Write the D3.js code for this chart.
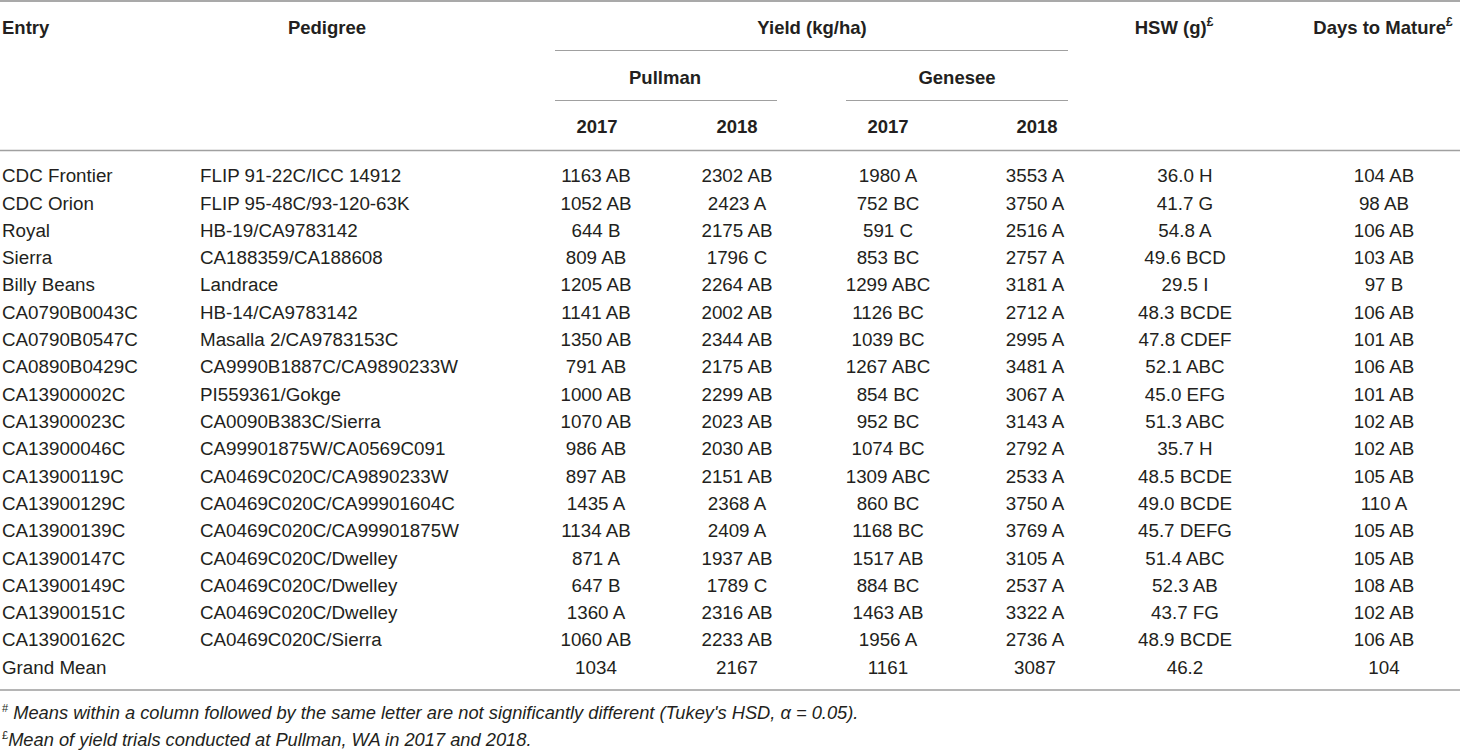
<!DOCTYPE html>
<html><head><meta charset="utf-8">
<script src="https://cdn.jsdelivr.net/npm/d3@7/dist/d3.min.js"></script>
<style>
html,body{margin:0;padding:0;background:#fff;}
svg{display:block;}
text{font-family:"Liberation Sans",Arial,Helvetica,sans-serif;fill:#231f20;}
</style></head>
<body><svg id="t" width="1460" height="751"></svg>
<script>
const entries = ["CDC Frontier","CDC Orion","Royal","Sierra","Billy Beans","CA0790B0043C","CA0790B0547C","CA0890B0429C","CA13900002C","CA13900023C","CA13900046C","CA13900119C","CA13900129C","CA13900139C","CA13900147C","CA13900149C","CA13900151C","CA13900162C","Grand Mean"];
const pedigrees = ["FLIP 91-22C/ICC 14912","FLIP 95-48C/93-120-63K","HB-19/CA9783142","CA188359/CA188608","Landrace","HB-14/CA9783142","Masalla 2/CA9783153C","CA9990B1887C/CA9890233W","PI559361/Gokge","CA0090B383C/Sierra","CA99901875W/CA0569C091","CA0469C020C/CA9890233W","CA0469C020C/CA99901604C","CA0469C020C/CA99901875W","CA0469C020C/Dwelley","CA0469C020C/Dwelley","CA0469C020C/Dwelley","CA0469C020C/Sierra",""];
const pullman2017 = ["1163 AB","1052 AB","644 B","809 AB","1205 AB","1141 AB","1350 AB","791 AB","1000 AB","1070 AB","986 AB","897 AB","1435 A","1134 AB","871 A","647 B","1360 A","1060 AB","1034"];
const pullman2018 = ["2302 AB","2423 A","2175 AB","1796 C","2264 AB","2002 AB","2344 AB","2175 AB","2299 AB","2023 AB","2030 AB","2151 AB","2368 A","2409 A","1937 AB","1789 C","2316 AB","2233 AB","2167"];
const genesee2017 = ["1980 A","752 BC","591 C","853 BC","1299 ABC","1126 BC","1039 BC","1267 ABC","854 BC","952 BC","1074 BC","1309 ABC","860 BC","1168 BC","1517 AB","884 BC","1463 AB","1956 A","1161"];
const genesee2018 = ["3553 A","3750 A","2516 A","2757 A","3181 A","2712 A","2995 A","3481 A","3067 A","3143 A","2792 A","2533 A","3750 A","3769 A","3105 A","2537 A","3322 A","2736 A","3087"];
const hsw = ["36.0 H","41.7 G","54.8 A","49.6 BCD","29.5 I","48.3 BCDE","47.8 CDEF","52.1 ABC","45.0 EFG","51.3 ABC","35.7 H","48.5 BCDE","49.0 BCDE","45.7 DEFG","51.4 ABC","52.3 AB","43.7 FG","48.9 BCDE","46.2"];
const daysToMature = ["104 AB","98 AB","106 AB","103 AB","97 B","106 AB","101 AB","106 AB","101 AB","102 AB","102 AB","105 AB","110 A","105 AB","105 AB","108 AB","102 AB","106 AB","104"];
const footnotes = [
  {sup:"#", text:" Means within a column followed by the same letter are not significantly different (Tukey's HSD, \u03b1 = 0.05)."},
  {sup:"\u00a3", text:"Mean of yield trials conducted at Pullman, WA in 2017 and 2018."}
];

const svg = d3.select("#t");
const FS = 18.8;
const W = 1460;

// column layout
const cols = [
  {key:"entry", data:entries, x:2, anchor:"start"},
  {key:"ped", data:pedigrees, x:200, anchor:"start"},
  {key:"p17", data:pullman2017, x:596, anchor:"middle"},
  {key:"p18", data:pullman2018, x:737, anchor:"middle"},
  {key:"g17", data:genesee2017, x:888, anchor:"middle"},
  {key:"g18", data:genesee2018, x:1035, anchor:"middle"},
  {key:"hsw", data:hsw, x:1185, anchor:"middle"},
  {key:"dtm", data:daysToMature, x:1384, anchor:"middle"}
];

const y = d3.scaleLinear().domain([0, entries.length - 1]).range([175.5, 667]);
const base = c => c + FS * 0.36;

// rules
const rule = (x1, x2, yy, w, col) => svg.append("line")
  .attr("x1", x1).attr("x2", x2).attr("y1", yy).attr("y2", yy)
  .attr("stroke", col).attr("stroke-width", w);
rule(0, W, 1, 1.5, "#8c8c8c");
rule(555, 1068, 50.5, 1.2, "#a0a0a0");
rule(555, 777, 100.5, 1.2, "#a0a0a0");
rule(846, 1068, 100.5, 1.2, "#a0a0a0");
rule(0, W, 150.5, 1.5, "#a0a0a0");
rule(0, W, 690, 2.2, "#b5b5b5");

// header
const hdr = [
  {t:"Entry", x:2, y:27, a:"start"},
  {t:"Pedigree", x:327, y:27, a:"middle"},
  {t:"Yield (kg/ha)", x:812, y:27, a:"middle"},
  {t:"HSW (g)", x:1174, y:27, a:"middle", sup:"\u00a3"},
  {t:"Days to Mature", x:1383, y:27, a:"middle", sup:"\u00a3"},
  {t:"Pullman", x:665, y:77, a:"middle"},
  {t:"Genesee", x:957, y:77, a:"middle"},
  {t:"2017", x:597, y:126, a:"middle"},
  {t:"2018", x:737, y:126, a:"middle"},
  {t:"2017", x:888, y:126, a:"middle"},
  {t:"2018", x:1037, y:126, a:"middle"}
];
hdr.forEach(h => {
  const t = svg.append("text").attr("x", h.x).attr("y", base(h.y))
    .attr("text-anchor", h.a).attr("font-weight", "bold").attr("font-size", 18.5).text(h.t);
  if (h.sup) {
    t.append("tspan").attr("font-size", 12).attr("dy", -8).text(h.sup);
  }
});

// body
cols.forEach(c => {
  svg.append("g").selectAll("text").data(c.data).join("text")
    .attr("x", c.x).attr("y", (d, i) => base(y(i)))
    .attr("text-anchor", c.anchor).attr("font-size", FS)
    .text(d => d);
});

// footnotes
const fy = d3.scaleLinear().domain([0, 1]).range([712, 739]);
footnotes.forEach((f, i) => {
  const t = svg.append("text").attr("x", 2).attr("y", base(fy(i)))
    .attr("font-size", 18.3).attr("font-style", "italic");
  t.append("tspan").attr("font-size", 11).attr("dy", -7).attr("font-style", "normal").text(f.sup);
  t.append("tspan").attr("dy", 7).text(f.text);
});
</script></body></html>
